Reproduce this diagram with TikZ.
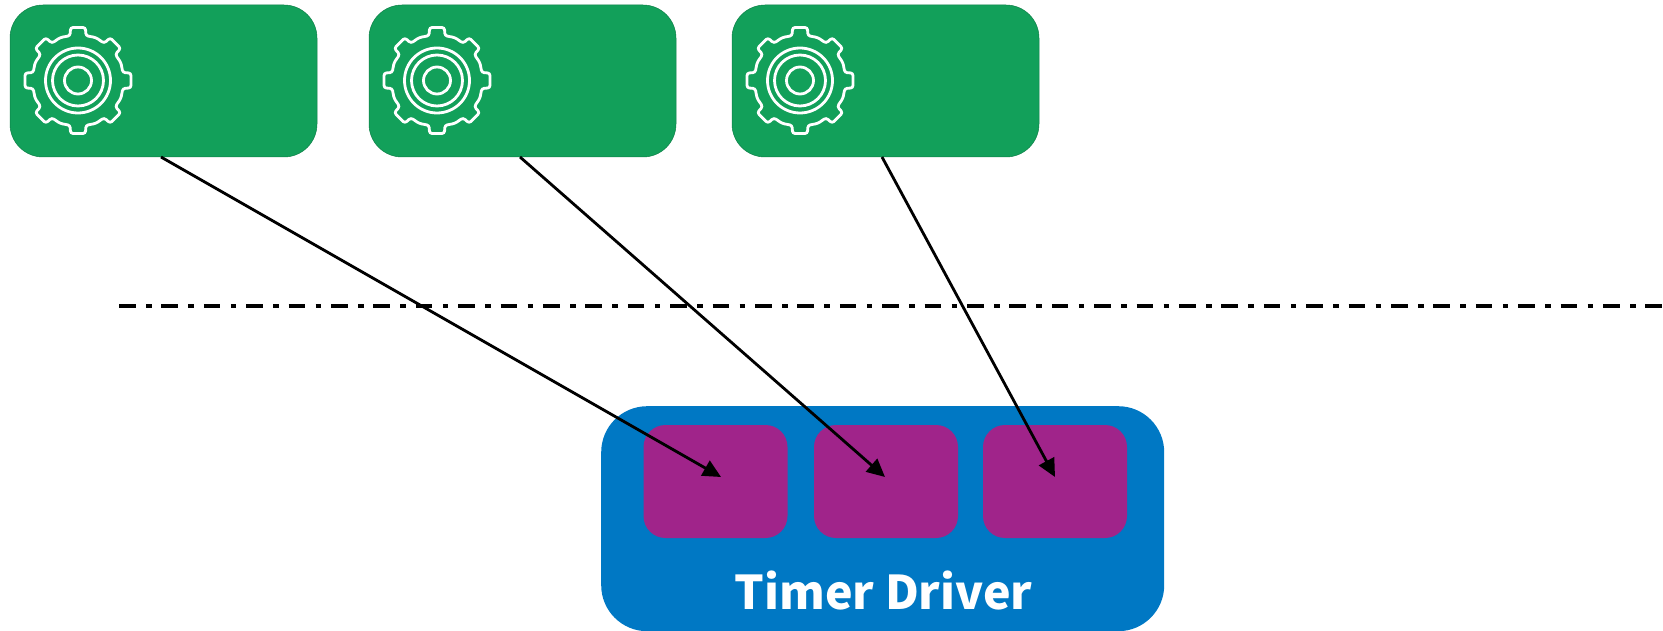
\documentclass[tikz,border=0pt]{standalone}
\usepackage{fontspec}
\newfontfamily\lblfont{Noto Sans CJK SC}
\usetikzlibrary{arrows.meta}
\definecolor{gbox}{RGB}{18,160,90}
\definecolor{bbox}{RGB}{0,120,196}
\definecolor{pbox}{RGB}{160,36,138}
\tikzset{
  greenbox/.style={fill=gbox,draw=gbox!80!black,line width=.5pt,rounded corners=33pt,minimum width=307pt,minimum height=152pt,inner sep=0pt},
  bluebox/.style={fill=bbox,rounded corners=46pt,minimum width=563pt,minimum height=225pt,inner sep=0pt},
  purplebox/.style={fill=pbox,rounded corners=22pt,minimum width=144pt,minimum height=113pt,inner sep=0pt},
  link/.style={line width=2.8pt,-{Triangle[length=18pt,width=17pt]}},
  divider/.style={line width=4pt,dash pattern=on 16.5pt off 10.5pt on 5.5pt off 9.9pt},
  gearline/.style={draw=white,line width=2.8pt},
  gear/.pic={
    \draw[gearline,rounded corners=2.5pt] (-22.5:46.5)
      foreach \a in {0,45,...,270}{
        -- (\a-10:45.5) -- (\a-8:53.5) -- (\a+8:53.5) -- (\a+10:45.5) -- (\a+22.5:46.5)
      } -- (305:45.5) -- (307:53.5) -- (323:53.5) -- (325:45.5) -- cycle;
    \draw[gearline] (0,0) circle[radius=32.5] (0,0) circle[radius=25.5] (0,0) circle[radius=13.5];
  }
}
\begin{document}
\begin{tikzpicture}[x=1pt,y=-1pt]
\useasboundingbox (0,0) rectangle (1663,631);
\node[greenbox] (g1) at (163.5,81) {};
\node[greenbox] (g2) at (522.5,81) {};
\node[greenbox] (g3) at (885.5,81) {};
\path (78,80.5) pic {gear} (437,80.5) pic {gear} (800,80.5) pic {gear};
\node[bluebox,anchor=north west] (drv) at (601,406) {};
\node[purplebox] (p1) at (715.5,481.5) {};
\node[purplebox] (p2) at (886,481.5) {};
\node[purplebox] (p3) at (1055,481.5) {};
\node[text=white,font=\lblfont\bfseries\fontsize{46.5}{46.5}\selectfont,anchor=base] (lbl) at (883.5,609) {Timer Driver};
\coordinate (s1) at (161,157);
\coordinate (s2) at (520,157);
\coordinate (s3) at (882,157);
\coordinate (t1) at (721,477);
\coordinate (t2) at (885,477);
\coordinate (t3) at (1055,477);
\coordinate (dl) at (119,305.5);
\coordinate (dr) at (1663,305.5);
\draw[divider] (dl) -- (dr);
\draw[link] (s1) -- (t1);
\draw[link] (s2) -- (t2);
\draw[link] (s3) -- (t3);
\end{tikzpicture}
\end{document}
